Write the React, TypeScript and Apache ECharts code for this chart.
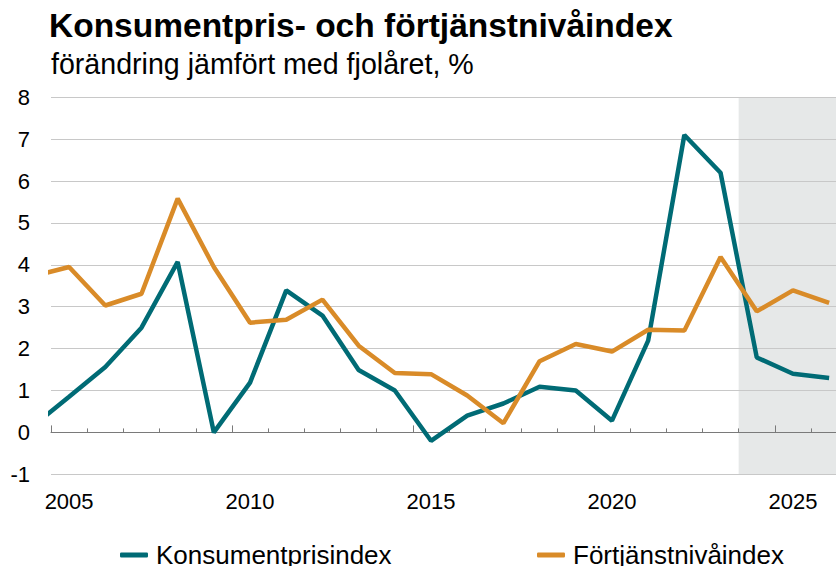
import React, { useEffect, useRef } from "react";
import * as echarts from "echarts";

const years = [2004, 2005, 2006, 2007, 2008, 2009, 2010, 2011, 2012, 2013, 2014, 2015, 2016, 2017, 2018, 2019, 2020, 2021, 2022, 2023, 2024, 2025, 2026];
const kpi = [0.15, 0.85, 1.56, 2.5, 4.07, 0.0, 1.19, 3.39, 2.79, 1.49, 1.0, -0.2, 0.4, 0.69, 1.09, 1.0, 0.28, 2.19, 7.1, 6.2, 1.79, 1.4, 1.3];
const fni = [3.73, 3.95, 3.03, 3.31, 5.58, 3.95, 2.62, 2.69, 3.17, 2.07, 1.42, 1.39, 0.88, 0.22, 1.7, 2.11, 1.93, 2.45, 2.43, 4.19, 2.89, 3.39, 3.09];
const labelYears = [2005, 2010, 2015, 2020, 2025];
const majorTicks = [2004.5, 2009.5, 2014.5, 2019.5, 2024.5];
const minorTicks = [2005.5, 2006.5, 2007.5, 2008.5, 2010.5, 2011.5, 2012.5, 2013.5, 2015.5, 2016.5, 2017.5, 2018.5, 2020.5, 2021.5, 2022.5, 2023.5, 2025.5];
const forecastStart = 2023.5;
const xMin = 2004.5;
const xMax = 2026.19;
const seriesNames = ["Konsumentprisindex", "Förtjänstnivåindex"];
const titleText = "Konsumentpris- och förtjänstnivåindex";
const subtitleText = "förändring jämfört med fjolåret, %";

const FONT = "'Liberation Sans', Arial, Helvetica, sans-serif";
const TEAL = "#006b75";
const ORANGE = "#d98b28";
const AXIS_GRAY = "#7a7a7a";

export default function App() {
  const ref = useRef<HTMLDivElement>(null);
  useEffect(() => {
    if (!ref.current) return;
    const chart = echarts.init(ref.current, undefined, { renderer: "svg" });
    const pair = (vals: number[]) => years.map((y, i) => [y, vals[i]]);
    const baseX = { type: "value", min: xMin, max: xMax, position: "bottom", splitLine: { show: false } };
    const legendBase = {
      top: 542,
      padding: 0,
      icon: "roundRect",
      itemWidth: 28,
      itemHeight: 5,
      textStyle: { fontSize: 26, color: "#000", fontFamily: FONT, padding: [0, 0, 0, 3] },
    };
    chart.setOption({
      animation: false,
      backgroundColor: "#ffffff",
      textStyle: { fontFamily: FONT },
      title: [
        {
          text: titleText,
          left: 49,
          top: 8,
          padding: 0,
          textStyle: { fontSize: 33.5, fontWeight: "bold", color: "#000", fontFamily: FONT },
        },
        {
          text: subtitleText,
          left: 51,
          top: 49,
          padding: 0,
          textStyle: { fontSize: 28.6, fontWeight: "normal", color: "#000", fontFamily: FONT },
        },
      ],
      legend: [
        { ...legendBase, data: [seriesNames[0]], left: 120 },
        { ...legendBase, data: [seriesNames[1]], left: 537 },
      ],
      grid: { left: 51, right: 0, top: 97.3, bottom: 91.7, outerBoundsMode: "none" },
      xAxis: [
        {
          ...baseX,
          z: 2,
          axisLine: { show: true, onZero: true, onZeroAxisIndex: 0, lineStyle: { color: AXIS_GRAY, width: 1 } },
          axisTick: { show: true, inside: true, length: 4, customValues: minorTicks, lineStyle: { color: AXIS_GRAY, width: 1 } },
          axisLabel: { show: false },
        },
        {
          ...baseX,
          z: 2,
          axisLine: { show: false, onZero: true, onZeroAxisIndex: 0 },
          axisTick: { show: true, inside: true, length: 7, customValues: majorTicks, lineStyle: { color: AXIS_GRAY, width: 1 } },
          axisLabel: { show: false },
        },
        {
          ...baseX,
          z: 2,
          axisLine: { show: false, onZero: false },
          axisTick: { show: false },
          axisLabel: {
            show: true,
            customValues: labelYears,
            formatter: (v: number) => String(Math.round(v)),
            fontSize: 22,
            color: "#000",
            margin: 16,
            fontFamily: FONT,
          },
        },
      ],
      yAxis: {
        type: "value",
        min: -1,
        max: 8,
        interval: 1,
        z: 2,
        axisLine: { show: false },
        axisTick: { show: false },
        axisLabel: { fontSize: 22, color: "#000", margin: 21, fontFamily: FONT },
        splitLine: { show: true, lineStyle: { color: "#c8c8c8", width: 1 } },
      },
      series: [
        {
          name: seriesNames[0],
          type: "line",
          xAxisIndex: 0,
          data: pair(kpi),
          showSymbol: false,
          symbol: "none",
          z: 3,
          lineStyle: { color: TEAL, width: 4.5 },
          itemStyle: { color: TEAL },
          markArea: {
            silent: true,
            itemStyle: { color: "#e6e8e8" },
            data: [[{ xAxis: forecastStart }, { xAxis: xMax }]],
          },
        },
        {
          name: seriesNames[1],
          type: "line",
          xAxisIndex: 0,
          data: pair(fni),
          showSymbol: false,
          symbol: "none",
          z: 3,
          lineStyle: { color: ORANGE, width: 4.5 },
          itemStyle: { color: ORANGE },
        },
      ],
    });
    return () => chart.dispose();
  }, []);
  return <div ref={ref} style={{ position: "fixed", left: 0, top: 0, width: 836, height: 566 }} />;
}
